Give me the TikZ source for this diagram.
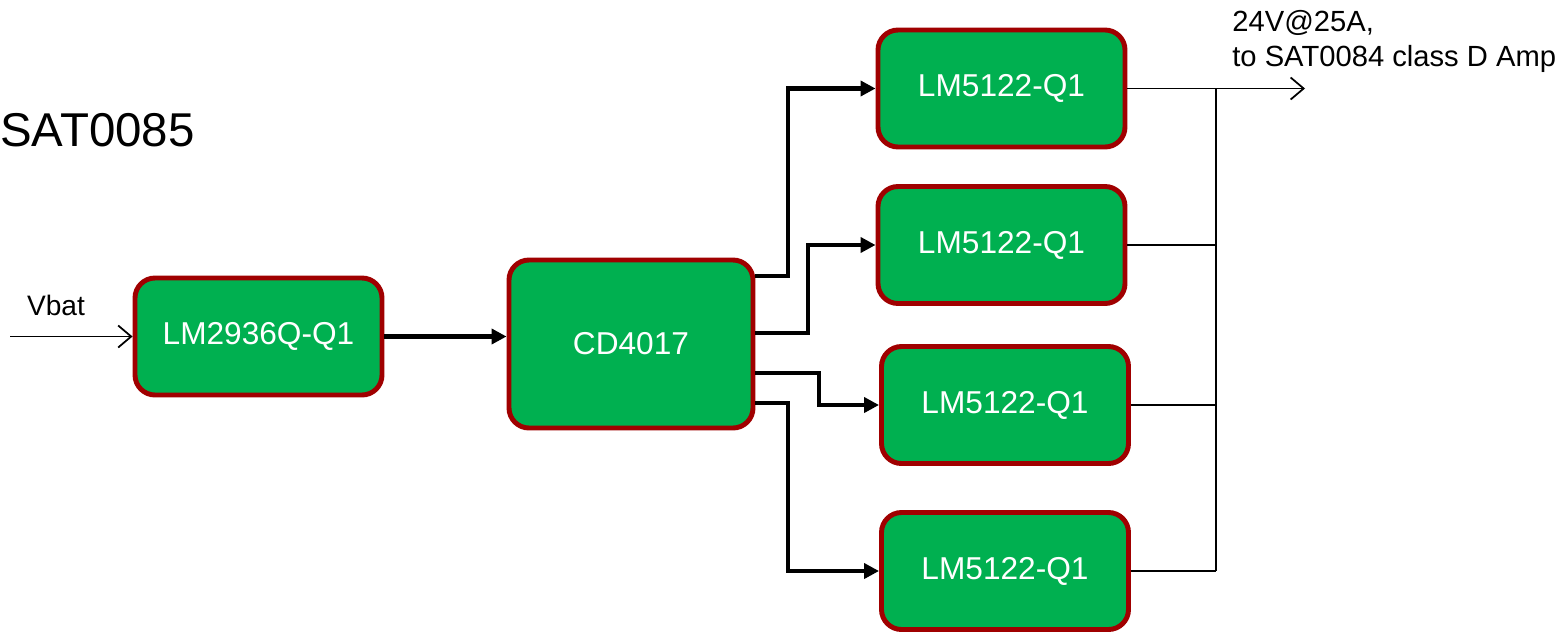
\documentclass[tikz,border=0pt]{standalone}
\usepackage{fontspec}
\setmainfont{Liberation Sans}
\usetikzlibrary{arrows.meta}
\definecolor{boxgreen}{HTML}{00B050}
\definecolor{boxred}{HTML}{A00000}

\begin{document}
\begin{tikzpicture}[
    block/.style={draw=boxred, fill=boxgreen, line width=2.8pt, rounded corners=0.4cm,
        text=white, font=\fontsize{18}{22}\selectfont, minimum width=4.94cm, minimum height=2.34cm},
    bus/.style={line width=2.3pt, -{Triangle[length=3mm,width=3mm]}},
    wire/.style={line width=1pt},
    feed/.style={wire, -{Straight Barb[length=2.6mm,width=4.4mm]}}
  ]
    \useasboundingbox (0,0) rectangle (31.36,-12.76);
    \node [anchor=west, inner sep=0, font=\fontsize{27}{32}\selectfont] (title) at (0,-2.6) {SAT0085};
    \node [block] (reg) at (5.17,-6.73) {LM2936Q-Q1};
    \node [block, minimum width=4.88cm, minimum height=3.36cm] (cd) at (12.62,-6.88) {CD4017};
    \node [block] (b1) at (20.03,-1.77) {LM5122-Q1};
    \node [block] (b2) at (20.03,-4.90) {LM5122-Q1};
    \node [block] (b3) at (20.10,-8.10) {LM5122-Q1};
    \node [block] (b4) at (20.10,-11.42) {LM5122-Q1};
    \coordinate (in) at (0.2,-6.73);
    \node [font=\fontsize{16}{20}\selectfont, inner sep=0] (vbat) at (1.12,-6.1) {Vbat};
    \draw [feed] (in) -- (reg.west);
    \draw [bus] (reg.east) -- (reg.east -| cd.west);
    % outputs of the counter
    \draw [bus] ([yshift=1.36cm]cd.east) -- ++(0.66,0) |- (b1.west);
    \draw [bus] ([yshift=0.22cm]cd.east) -- ++(1.06,0) |- (b2.west);
    \draw [bus] ([yshift=-0.58cm]cd.east) -- ++(1.28,0) |- (b3.west);
    \draw [bus] ([yshift=-1.18cm]cd.east) -- ++(0.66,0) |- (b4.west);
    % common output rail
    \coordinate (top) at (24.32,-1.77);
    \coordinate (bot) at (24.32,-11.42);
    \coordinate (out) at (26.1,-1.77);
    \draw [wire] (top) -- (bot);
    \draw [feed] (b1.east) -- (out);
    \foreach \b in {b2,b3,b4}
        \draw [wire] (\b.east) -- (\b.east -| top);
    \node [anchor=north west, align=left, inner sep=0, font=\fontsize{16.6}{20}\selectfont] (load) at (24.64,-0.2)
        {24V@25A,\\to SAT0084 class D Amp};
\end{tikzpicture}
\end{document}
